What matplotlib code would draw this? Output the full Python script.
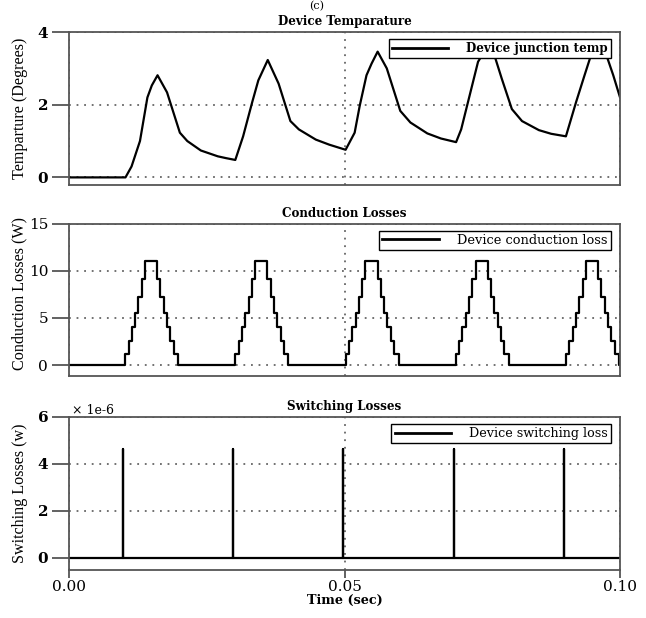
import numpy as np
import matplotlib
matplotlib.use("Agg")
import matplotlib.pyplot as plt
from matplotlib.ticker import FuncFormatter

# junction temperature trace (time in s, temperature rise in degrees)
temp_t = [0.0, 0.01025, 0.01135, 0.01288, 0.01423, 0.01503, 0.01607, 0.01779, 0.02012,
          0.02147, 0.02393, 0.0270, 0.0285, 0.03018, 0.0316, 0.03325, 0.03436, 0.03607,
          0.03804, 0.04018, 0.04172, 0.04479, 0.04724, 0.0502, 0.05184, 0.05276, 0.05399,
          0.05491, 0.05601, 0.05767, 0.06012, 0.06196, 0.06503, 0.0675, 0.07025, 0.07117,
          0.0727, 0.07423, 0.07515, 0.0761, 0.07718, 0.07853, 0.08037, 0.08221, 0.08528,
          0.0875, 0.09018, 0.09202, 0.09356, 0.09479, 0.0959, 0.09742, 0.09877, 0.1]
temp_val = [0.0, 0.0, 0.30, 1.0, 2.2, 2.53, 2.81, 2.34, 1.23,
            1.0, 0.74, 0.58, 0.53, 0.48, 1.13, 2.07, 2.67, 3.23,
            2.58, 1.55, 1.32, 1.04, 0.9, 0.76, 1.23, 1.97, 2.81,
            3.13, 3.46, 3.0, 1.83, 1.51, 1.21, 1.07, 0.97, 1.32,
            2.25, 3.18, 3.41, 3.62, 3.37, 2.72, 1.88, 1.55, 1.30,
            1.20, 1.13, 2.07, 2.81, 3.39, 3.72, 3.41, 2.81, 2.2]

# conduction loss: stepped pulses, one per switching event
pulse_starts = [0.0102, 0.0302, 0.0502, 0.0702, 0.0902]
step_offsets = [0.0, 0.0006, 0.0012, 0.0018, 0.0024, 0.0030, 0.0036,
                0.0058, 0.0064, 0.0070, 0.0076, 0.0082, 0.0088, 0.0096]
step_levels = [1.2, 2.5, 4.0, 5.5, 7.25, 9.1, 11.0,
               9.1, 7.25, 5.5, 4.0, 2.5, 1.2, 0.0]

# switching loss spikes
switch_times = [0.0098, 0.0298, 0.0498, 0.0698, 0.0898]
switch_peak = 4.65e-6

t_end = 0.1

cond_t = [0.0]
cond_v = [0.0]
for s in pulse_starts:
    for off, lev in zip(step_offsets, step_levels):
        cond_t.append(s + off)
        cond_v.append(lev)
cond_t.append(t_end)
cond_v.append(cond_v[-1])

sw_t = [0.0]
sw_v = [0.0]
for s in switch_times:
    sw_t += [s, s, s]
    sw_v += [0.0, switch_peak, 0.0]
sw_t.append(t_end)
sw_v.append(0.0)

plt.rcParams['font.family'] = ['DejaVu Serif']
spine_col = '#555555'
grid_kw = dict(color='#666666', linestyle=(0, (1, 3.2)), linewidth=1.3)

fig = plt.figure(figsize=(6.46, 6.18), dpi=100)
left, width = 0.1068, 0.853
ax1 = fig.add_axes([left, 0.7006, width, 0.2476])
ax2 = fig.add_axes([left, 0.3920, width, 0.2460])
ax3 = fig.add_axes([left, 0.0777, width, 0.2476])


def style(ax, yticks, bold_ticks):
    ax.set_xlim(0, t_end)
    ax.set_xticks([0, 0.05, 0.1])
    ax.set_yticks(yticks)
    for sp in ax.spines.values():
        sp.set_color(spine_col)
        sp.set_linewidth(1.3)
    ax.tick_params(axis='y', direction='out', length=12, width=1.3, color=spine_col,
                   pad=3, labelsize=11)
    ax.grid(True, **grid_kw)
    ax.set_axisbelow(True)
    for lab in ax.get_yticklabels():
        lab.set_fontweight('bold' if bold_ticks else 'normal')


def add_legend(ax, label, bold, size, hlen, hpad):
    leg = ax.legend([label], loc='upper right', bbox_to_anchor=(0.983, 0.955),
                    borderaxespad=0, fancybox=False, framealpha=1, edgecolor='black',
                    borderpad=0.25, handlelength=hlen, handletextpad=hpad,
                    prop=dict(size=size, weight='bold' if bold else 'normal'))
    leg.get_frame().set_linewidth(1.0)
    leg.legend_handles[0].set_linewidth(2)


ylab_font = dict(family='Liberation Serif', size=11.6)
title_font = dict(size=8.6, fontweight='bold')

# temperature
ax1.plot(temp_t, temp_val, color='black', lw=1.6)
ax1.set_ylim(-0.21, 4)
style(ax1, [0, 2, 4], True)
ax1.tick_params(axis='x', length=0, labelbottom=False)
ax1.set_title('Device Temparature', pad=5, **title_font)
ax1.set_ylabel('Temparture (Degrees)', **ylab_font)
ax1.yaxis.set_label_coords(-0.075, 0.5)
add_legend(ax1, 'Device junction temp', True, 8.6, 4.7, 1.5)

# conduction losses
ax2.plot(cond_t, cond_v, color='black', lw=1.6, drawstyle='steps-post')
ax2.set_ylim(-1.14, 15)
style(ax2, [0, 5, 10, 15], False)
ax2.tick_params(axis='x', length=0, labelbottom=False)
ax2.set_title('Conduction Losses', pad=5, **title_font)
ax2.set_ylabel('Conduction Losses (W)', **ylab_font)
ax2.yaxis.set_label_coords(-0.075, 0.54)
add_legend(ax2, 'Device conduction loss', False, 9.4, 4.3, 1.4)

# switching losses
ax3.plot(sw_t, sw_v, color='black', lw=1.6)
ax3.set_ylim(-0.52e-6, 6e-6)
style(ax3, [0, 2e-6, 4e-6, 6e-6], True)
ax3.yaxis.set_major_formatter(FuncFormatter(lambda v, p: f'{v * 1e6:.0f}'))
ax3.xaxis.set_major_formatter(FuncFormatter(lambda v, p: f'{v:.2f}'))
ax3.tick_params(axis='x', direction='out', length=6, width=1.3, color=spine_col,
                pad=1.5, labelsize=11)
ax3.set_title('Switching Losses', pad=5, **title_font)
ax3.set_ylabel('Switching Losses (w)', **ylab_font)
ax3.yaxis.set_label_coords(-0.075, 0.5)
ax3.set_xlabel('Time (sec)', fontsize=9.2, fontweight='bold', labelpad=0)
ax3.text(0.005, 1.0, '\u00d7 1e-6', transform=ax3.transAxes, fontsize=9,
         ha='left', va='bottom')
add_legend(ax3, 'Device switching loss', False, 9.2, 4.4, 1.4)

fig.text(0.49, 0.999, '(c)', fontsize=8, ha='center', va='top')

fig.savefig('out.png', dpi=100)
